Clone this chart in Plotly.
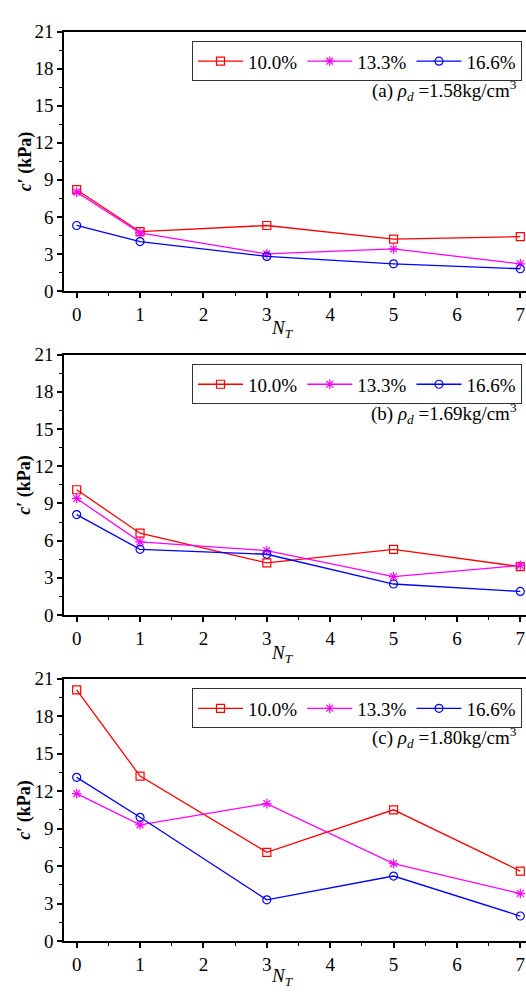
import plotly.graph_objects as go

N_T = [0, 1, 3, 5, 7]
series_names = ["10.0%", "13.3%", "16.6%"]

# panel (a) rho_d = 1.58
a_10 = [8.2, 4.8, 5.3, 4.2, 4.4]
a_13 = [8.0, 4.7, 3.0, 3.4, 2.2]
a_16 = [5.3, 4.0, 2.8, 2.2, 1.8]
# panel (b) rho_d = 1.69
b_10 = [10.1, 6.6, 4.2, 5.3, 3.9]
b_13 = [9.4, 5.9, 5.2, 3.1, 4.0]
b_16 = [8.1, 5.3, 4.9, 2.5, 1.9]
# panel (c) rho_d = 1.80
c_10 = [20.1, 13.2, 7.1, 10.5, 5.6]
c_13 = [11.8, 9.3, 11.0, 6.2, 3.8]
c_16 = [13.1, 9.9, 3.3, 5.2, 2.0]

panel_labels = ["(a)", "(b)", "(c)"]
densities = ["1.58", "1.69", "1.80"]

panels = [(a_10, a_13, a_16), (b_10, b_13, b_16), (c_10, c_13, c_16)]
colors = ["#ff0000", "#ff00ff", "#0000ff"]
symbols = ["square-open", "asterisk-open", "circle-open"]

H = 999.0
W = 526.0
FONT = "Liberation Serif"
# pixel positions of panels (top, bottom)
px_panels = [(22, 287), (352, 618), (683, 951)]
xtitle_y = [326, 658, 988]

fig = go.Figure()
for p, data in enumerate(panels):
    xa = "x" if p == 0 else f"x{p+1}"
    ya = "y" if p == 0 else f"y{p+1}"
    lg = "legend" if p == 0 else f"legend{p+1}"
    for s, vals in enumerate(data):
        fig.add_trace(go.Scatter(
            x=N_T, y=vals, mode="lines+markers", name=series_names[s],
            xaxis=xa, yaxis=ya, legend=lg,
            line=dict(color=colors[s], width=1.3),
            marker=dict(symbol=symbols[s], size=8, color=colors[s],
                        line=dict(color=colors[s], width=1.2)),
        ))

layout = dict(
    width=526, height=999,
    margin=dict(l=0, r=0, t=0, b=0),
    paper_bgcolor="white", plot_bgcolor="white",
    font=dict(family=FONT, size=19, color="black"),
    showlegend=True,
)
annotations = []
for p in range(3):
    top, bot = px_panels[p]
    dom = [1 - bot / H, 1 - top / H]
    xk = "xaxis" if p == 0 else f"xaxis{p+1}"
    yk = "yaxis" if p == 0 else f"yaxis{p+1}"
    lk = "legend" if p == 0 else f"legend{p+1}"
    yref = "y" if p == 0 else f"y{p+1}"
    layout[xk] = dict(
        domain=[64 / W, 1.0], range=[-0.2, 7.09], anchor=yref,
        tickmode="linear", tick0=0, dtick=1,
        ticks="outside", ticklen=5, tickwidth=1.5, tickcolor="black",
        minor=dict(ticks="outside", dtick=0.5, ticklen=3, tickwidth=1.2, tickcolor="black"),
        showline=True, linecolor="black", linewidth=1.5, mirror=True,
        showgrid=False, zeroline=False,
        tickfont=dict(family=FONT, size=19, color="black"),
    )
    layout[yk] = dict(
        domain=dom, range=[0, 21], anchor="x" if p == 0 else f"x{p+1}",
        tickmode="linear", tick0=0, dtick=3,
        ticks="outside", ticklen=5, tickwidth=1.5, tickcolor="black",
        minor=dict(ticks="outside", dtick=1.5, ticklen=3, tickwidth=1.2, tickcolor="black"),
        showline=True, linecolor="black", linewidth=1.5, mirror=False,
        showgrid=False, zeroline=False,
        tickfont=dict(family=FONT, size=19, color="black"),
    )
    layout[lk] = dict(
        orientation="h", xanchor="right", yanchor="top",
        x=522 / W, y=1 - (top + 10) / H,
        bordercolor="#333333", borderwidth=1, bgcolor="white",
        font=dict(family=FONT, size=19, color="black"),
        itemwidth=45, tracegroupgap=0,
    )
    annotations.append(dict(
        xref="paper", yref="paper", x=519 / W, y=1 - (top + 60) / H,
        xanchor="right", yanchor="middle", showarrow=False,
        text=f"{panel_labels[p]} <i>ρ</i><sub><i>d</i></sub> ={densities[p]}kg/cm<sup>3</sup>",
        font=dict(family=FONT, size=19, color="black"),
    ))
    annotations.append(dict(
        xref="paper", yref="paper", x=25 / W, y=1 - ((top + bot) / 2) / H,
        xanchor="center", yanchor="middle", showarrow=False, textangle=-90,
        text="<b><i>c</i>′ (kPa)</b>",
        font=dict(family=FONT, size=18, color="black"),
    ))
    annotations.append(dict(
        xref="paper", yref="paper", x=282 / W, y=1 - xtitle_y[p] / H,
        xanchor="center", yanchor="middle", showarrow=False,
        text="<i>N</i><sub><i>T</i></sub>",
        font=dict(family=FONT, size=19, color="black"),
    ))
layout["annotations"] = annotations
fig.update_layout(**layout)
fig.write_html("out.html")
